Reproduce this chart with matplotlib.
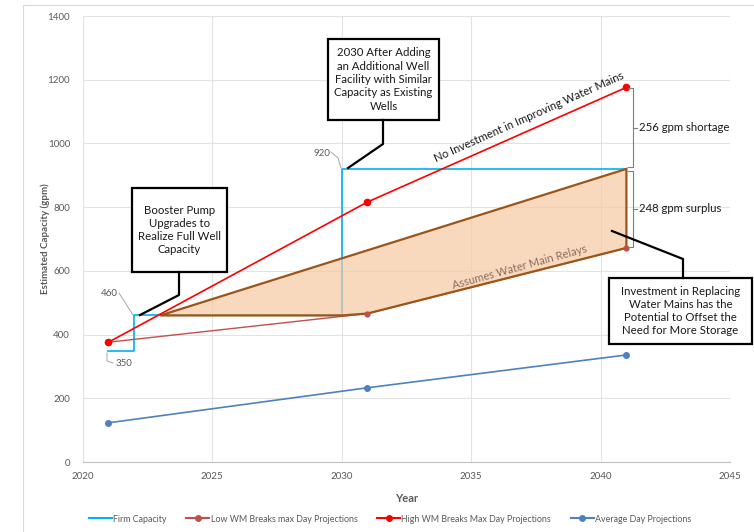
import matplotlib
matplotlib.use("Agg")
import matplotlib.pyplot as plt
from matplotlib.lines import Line2D
from matplotlib.patches import Rectangle, Polygon
from matplotlib.transforms import Affine2D

plt.rcParams['font.family'] = ['Lato', 'DejaVu Sans']

# projections (gpm)
years = [2021, 2031, 2041]
low_wm = [376, 466, 672]
high_wm = [376, 816, 1176]
avg_day = [123, 233, 336]

# firm capacity steps
firm_x = [2021, 2022, 2022, 2030, 2030, 2041]
firm_y = [350, 350, 460, 460, 920, 920]

# water main relay band
relay_upper_x = [2023, 2041]
relay_upper_y = [460, 920]
relay_lower_x = [2023, 2030, 2031, 2041]
relay_lower_y = [460, 460, 466, 672]

GREY = '#595959'
W, H = 754, 532

fig = plt.figure(figsize=(W / 100, H / 100), dpi=100)
ax = fig.add_axes([82.5 / W, 1 - 462 / H, (730 - 82.5) / W, (462 - 16) / H])
# pixel coords, origin top-left, for the callouts
pix = Affine2D().scale(1 / W, -1 / H).translate(0, 1) + fig.transFigure

fig.add_artist(Rectangle((23, 5), 900, 700, transform=pix, fill=False,
                         edgecolor='#D9D9D9', lw=0.8))

ax.plot(years, avg_day, color='#4F81BD', lw=1.2, marker='o', ms=4, zorder=3)
ax.plot(firm_x, firm_y, color='#00B0F0', lw=1.2, zorder=3)

poly_x = relay_upper_x + relay_lower_x[::-1]
poly_y = relay_upper_y + relay_lower_y[::-1]
ax.add_patch(Polygon(list(zip(poly_x, poly_y)), closed=True, facecolor='#F7C9A3',
                     alpha=0.7, edgecolor='none', zorder=4))
ax.add_patch(Polygon(list(zip(poly_x, poly_y)), closed=True, fill=False,
                     edgecolor='#9C5519', lw=1.6, joinstyle='miter', zorder=5))

ax.plot(years, low_wm, color='#C0504D', lw=1.0, zorder=3)
ax.plot(years, low_wm, color='#C0504D', lw=0, marker='o', ms=3.5, zorder=6)
ax.plot(years, high_wm, color='#FF0000', lw=1.2, marker='o', ms=4.5, zorder=7)

ax.set_xlim(2020, 2045)
ax.set_ylim(0, 1400)
ax.set_xticks(range(2020, 2046, 5))
ax.set_yticks(range(0, 1401, 200))
ax.grid(True, color='#E3E3E3', lw=0.8)
ax.set_axisbelow(True)
for s in ['top', 'right', 'left']:
    ax.spines[s].set_visible(False)
ax.spines['bottom'].set_color('#BFBFBF')
ax.tick_params(length=0, labelsize=7, labelcolor=GREY)
ax.tick_params(axis='y', pad=9)
ax.tick_params(axis='x', pad=7)
ax.set_xlabel('Year', fontsize=8, fontweight='bold', color=GREY, labelpad=9)
ax.set_ylabel('Estimated Capacity (gpm)', fontsize=7, fontweight='bold', color=GREY, labelpad=-2)

# text along lines
ax.text(529, 117, 'No Investment in Improving Water Mains', transform=pix, rotation=24,
        ha='center', va='center', fontsize=8.2, color='#1a1a1a', rotation_mode='anchor')
ax.text(520, 267, 'Assumes Water Main Relays', transform=pix, rotation=15.5,
        ha='center', va='center', fontsize=8, color='#8C6E5E', rotation_mode='anchor', zorder=8)

# value labels with thin leaders
def small_label(txt, tx, ty, pts):
    fig.text(tx, ty, txt, transform=pix, fontsize=7, color=GREY, ha='left', va='center')
    xs, ys = zip(*pts)
    fig.add_artist(Line2D(xs, ys, transform=pix, color='#A6A6A6', lw=0.7))

small_label(str(firm_y[2]), 101, 293, [(119, 293), (133, 315)])
small_label(str(firm_y[0]), 116, 363, [(107, 353), (107, 361), (113, 363)])
small_label(str(firm_y[4]), 314, 153, [(331, 152), (338, 158), (341, 168)])

# brackets on the right
def bracket(top, bottom, label):
    x0, x1, xn = 2041.08, 2041.25, 2041.42
    mid = (top + bottom) / 2
    ax.plot([x0, x1, x1, x0], [top, top, bottom, bottom], color='#7F7F7F', lw=0.8,
            clip_on=False, zorder=8)
    ax.plot([x1, xn], [mid, mid], color='#7F7F7F', lw=0.8, clip_on=False, zorder=8)
    ax.text(2041.5, mid, label, fontsize=8.2, color='#1a1a1a', va='center', ha='left')

shortage = high_wm[-1] - firm_y[-1]
surplus = firm_y[-1] - low_wm[-1]
bracket(high_wm[-1] - 3, firm_y[-1] + 5, f'{shortage} gpm shortage')
bracket(firm_y[-1] - 5, low_wm[-1] + 3, f'{surplus} gpm surplus')

# callout boxes
def callout(x0, y0, x1, y1, txt, leader):
    fig.add_artist(Rectangle((x0, y0), x1 - x0, y1 - y0, transform=pix, facecolor='white',
                             edgecolor='black', lw=1.6, zorder=10))
    fig.text((x0 + x1) / 2, (y0 + y1) / 2, txt, transform=pix, ha='center', va='center',
             fontsize=8.2, linespacing=1.25, color='#1a1a1a', zorder=11)
    xs, ys = zip(*leader)
    fig.add_artist(Line2D(xs, ys, transform=pix, color='black', lw=1.6, zorder=10))

callout(132, 188, 227, 272, 'Booster Pump\nUpgrades to\nRealize Full Well\nCapacity',
        [(179, 272), (179, 295), (140, 315)])
callout(328, 39, 439, 120, '2030 After Adding\nan Additional Well\nFacility with Similar\nCapacity as Existing\nWells',
        [(383, 120), (383, 144), (348, 168)])
callout(609, 278, 752, 344, 'Investment in Replacing\nWater Mains has the\nPotential to Offset the\nNeed for More Storage',
        [(683, 278), (683, 259), (612, 231)])

handles = [
    Line2D([], [], color='#00B0F0', lw=1.5),
    Line2D([], [], color='#C0504D', lw=1.5, marker='o', ms=4),
    Line2D([], [], color='#FF0000', lw=1.5, marker='o', ms=4),
    Line2D([], [], color='#4F81BD', lw=1.5, marker='o', ms=4),
]
labels = ['Firm Capacity', 'Low WM Breaks max Day Projections',
          'High WM Breaks Max Day Projections', 'Average Day Projections']
fig.legend(handles, labels, loc='center', bbox_to_anchor=(390 / W, 1 - 519 / H), ncol=4,
           frameon=False, fontsize=6.4, handlelength=2.6, handletextpad=0.15,
           columnspacing=2.2, labelcolor=GREY)

fig.savefig('out.png', dpi=100)
